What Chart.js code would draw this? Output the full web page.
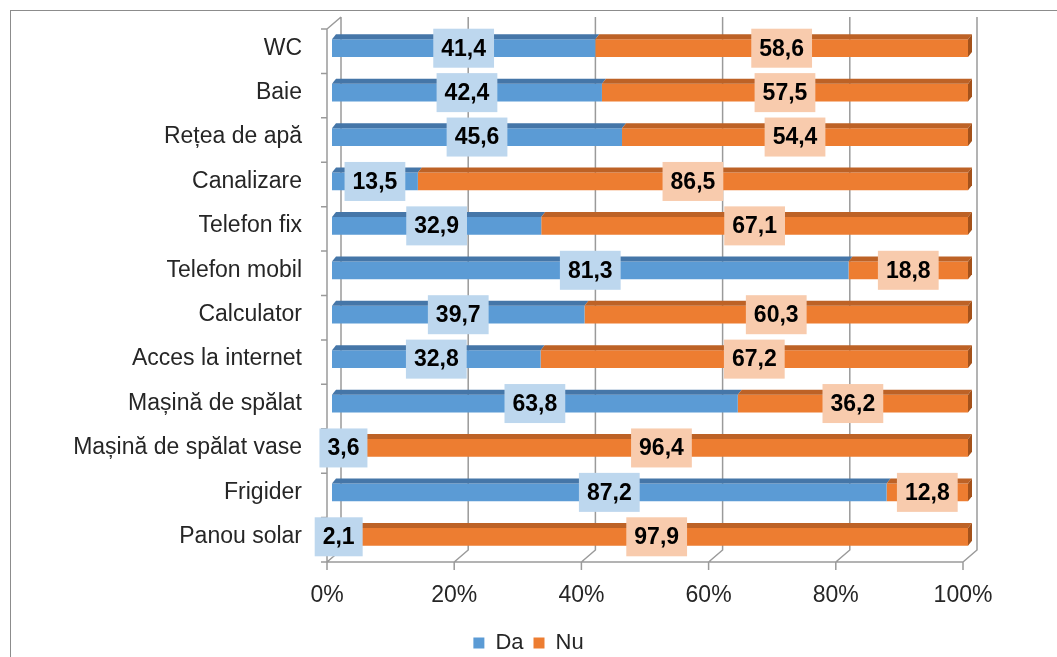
<!DOCTYPE html>
<html>
<head>
<meta charset="utf-8">
<title>Dotarea gospodăriilor</title>
<script src="https://cdn.jsdelivr.net/npm/chart.js@4/dist/chart.umd.min.js"></script>
<style>
    html, body { margin: 0; padding: 0; overflow: hidden; background: #fff; }
    #wrap { position: relative; width: 1057px; height: 664px; }
</style>
</head>
<body>
<div id="wrap"><canvas id="dotariChart"></canvas></div>
<script>
// categories, top to bottom
var categories = ['WC', 'Baie', 'Rețea de apă', 'Canalizare', 'Telefon fix', 'Telefon mobil',
    'Calculator', 'Acces la internet', 'Mașină de spălat', 'Mașină de spălat vase', 'Frigider', 'Panou solar'];

// series values (%)
var daValues = [41.4, 42.4, 45.6, 13.5, 32.9, 81.3, 39.7, 32.8, 63.8, 3.6, 87.2, 2.1];
var nuValues = [58.6, 57.5, 54.4, 86.5, 67.1, 18.8, 60.3, 67.2, 36.2, 96.4, 12.8, 97.9];

// tick labels on the value axis
var xTicks = [0, 20, 40, 60, 80, 100];

// colours
var frontColors = ['#5B9BD5', '#ED7D31'];
var topColors = ['#4576A8', '#BD6226'];
var sideColor = '#A4521B';
var labelBoxColors = ['#BDD7EE', '#F8CBAD'];
var textColor = '#262626';

Chart.defaults.font.family = '"Liberation Sans", Arial, sans-serif';

// share of each row, like a 100% stacked chart
function share(a, b) {
    return a.map(function (v, i) { return v / (v + b[i]) * 100; });
}

// draws border, 3d walls and gridlines
const frame3d = {
    id: 'frame3d',
    beforeDraw: function (chart) {
        const ctx = chart.ctx;
        ctx.save();
        ctx.fillStyle = '#fff';
        ctx.fillRect(0, 0, chart.width, chart.height);
        ctx.strokeStyle = '#8c8c8c';
        ctx.lineWidth = 1;
        ctx.strokeRect(10.5, 10.5, chart.width + 40, chart.height + 40);
        ctx.restore();
    },
    beforeDatasetsDraw: function (chart) {
        const ctx = chart.ctx, x = chart.scales.x, y = chart.scales.y, a = chart.chartArea;
        const backTop = a.top - 9, backBottom = a.bottom - 9, floorY = a.bottom + 3;
        const f0 = x.getPixelForValue(0) - 5, f100 = x.getPixelForValue(100) - 5;
        ctx.save();
        ctx.strokeStyle = '#9a9a9a';
        ctx.lineWidth = 1.5;
        ctx.beginPath();
        // back gridlines + floor diagonals + tick marks
        x.ticks.forEach(function (t) {
            const px = x.getPixelForValue(t.value);
            ctx.moveTo(px + 9, backTop);
            ctx.lineTo(px + 9, backBottom);
            ctx.lineTo(px - 5, floorY);
            ctx.lineTo(px - 5, floorY + 8);
        });
        // floor front edge
        ctx.moveTo(f0, floorY);
        ctx.lineTo(f100, floorY);
        // left wall
        ctx.moveTo(f0, floorY);
        ctx.lineTo(f0, y.getPixelForValue(-0.5) + 3);
        ctx.lineTo(x.getPixelForValue(0) + 9, backTop);
        // category separators on the wall
        for (let i = 0; i <= categories.length; i++) {
            const yb = y.getPixelForValue(i - 0.5) + 3;
            ctx.moveTo(f0 - 6, yb);
            ctx.lineTo(f0, yb);
        }
        ctx.stroke();
        ctx.restore();
    },
    afterDatasetsDraw: function (chart) {
        const ctx = chart.ctx;
        const last = chart.data.datasets.length - 1;
        ctx.save();
        // top and side faces of the bars
        chart.data.datasets.forEach(function (ds, di) {
            chart.getDatasetMeta(di).data.forEach(function (el) {
                const p = el.getProps(['x', 'y', 'base', 'height'], true);
                const left = Math.min(p.x, p.base), right = Math.max(p.x, p.base);
                const top = p.y - p.height / 2, bottom = p.y + p.height / 2;
                ctx.fillStyle = topColors[di];
                ctx.beginPath();
                ctx.moveTo(left, top);
                ctx.lineTo(left + 4, top - 5);
                ctx.lineTo(right + 4, top - 5);
                ctx.lineTo(right, top);
                ctx.closePath();
                ctx.fill();
                if (di === last) {
                    ctx.fillStyle = sideColor;
                    ctx.beginPath();
                    ctx.moveTo(right, top);
                    ctx.lineTo(right + 4, top - 5);
                    ctx.lineTo(right + 4, bottom - 5);
                    ctx.lineTo(right, bottom);
                    ctx.closePath();
                    ctx.fill();
                }
            });
        });
        // value labels
        ctx.font = 'bold 23px "Liberation Sans", Arial, sans-serif';
        ctx.textAlign = 'center';
        ctx.textBaseline = 'middle';
        chart.data.datasets.forEach(function (ds, di) {
            chart.getDatasetMeta(di).data.forEach(function (el, i) {
                const p = el.getProps(['x', 'y', 'base'], true);
                const cx = (p.x + p.base) / 2;
                const txt = ds.rawValues[i].toFixed(1).replace('.', ',');
                const w = ctx.measureText(txt).width + 16, h = 39;
                ctx.fillStyle = labelBoxColors[di];
                ctx.fillRect(cx - w / 2, p.y - h / 2, w, h);
                ctx.fillStyle = '#000';
                ctx.fillText(txt, cx, p.y + 1);
            });
        });
        ctx.restore();
    }
};

// define config
const config = {
    type: 'bar',
    data: {
        labels: categories,
        datasets: [{
            label: 'Da',
            data: share(daValues, nuValues),
            rawValues: daValues,
            backgroundColor: frontColors[0],
            borderWidth: 0,
            barPercentage: 0.4,
            categoryPercentage: 1
        }, {
            label: 'Nu',
            data: share(nuValues, daValues),
            rawValues: nuValues,
            backgroundColor: frontColors[1],
            borderWidth: 0,
            barPercentage: 0.4,
            categoryPercentage: 1
        }]
    },
    options: {
        indexAxis: 'y',
        responsive: true,
        maintainAspectRatio: false,
        animation: false,
        layout: { padding: { top: 26, left: 0, right: 0, bottom: 0 } },
        scales: {
            x: {
                stacked: true,
                min: 0,
                max: 100,
                afterBuildTicks: function (s) {
                    s.ticks = xTicks.map(function (v) { return { value: v }; });
                },
                afterFit: function (s) {
                    s.height = 63;
                    s.paddingLeft = 0;
                    s.paddingRight = 0;
                },
                grid: { display: false, drawTicks: false },
                border: { display: false },
                ticks: {
                    padding: 23,
                    labelOffset: -5,
                    color: textColor,
                    font: { size: 23 },
                    callback: function (v) { return v + '%'; }
                }
            },
            y: {
                stacked: true,
                afterFit: function (s) {
                    s.width = 332;
                    s.paddingTop = 0;
                    s.paddingBottom = 0;
                },
                grid: { display: false, drawTicks: false },
                border: { display: false },
                ticks: {
                    padding: 30,
                    autoSkip: false,
                    color: textColor,
                    font: { size: 23 }
                }
            },
            // empty right axis keeps room for the 3d side wall
            yRight: {
                position: 'right',
                afterFit: function (s) {
                    s.width = 89;
                    s.paddingTop = 0;
                    s.paddingBottom = 0;
                },
                grid: { display: false },
                border: { display: false },
                ticks: { display: false }
            }
        },
        plugins: {
            tooltip: { enabled: false },
            legend: {
                position: 'bottom',
                labels: {
                    boxWidth: 11,
                    boxHeight: 11,
                    color: textColor,
                    font: { size: 22 }
                }
            }
        }
    },
    plugins: [frame3d]
};

// draw chart
var dotariChart = new Chart(document.getElementById('dotariChart'), config);
</script>
</body>
</html>
